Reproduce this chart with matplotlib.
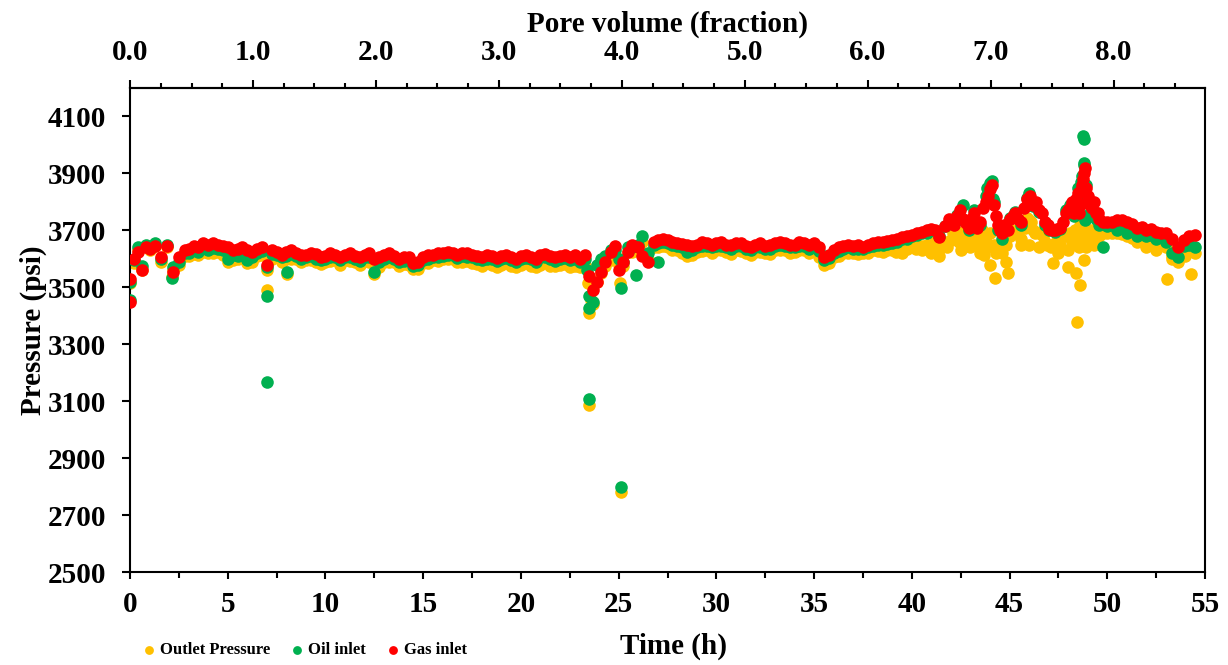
import matplotlib
matplotlib.use("Agg")
import matplotlib.pyplot as plt
from matplotlib.ticker import AutoMinorLocator, FormatStrFormatter
import numpy as np

plt.rcParams['font.family'] = 'serif'
plt.rcParams['font.serif'] = ['Liberation Serif', 'DejaVu Serif']
plt.rcParams['font.weight'] = 'bold'

# time of the logged points (h), shared by the three series
time_h = [
    0.0, 0.2, 0.4, 0.6, 0.8, 1.0, 1.3, 1.6, 1.9, 2.2,
    2.5, 2.8, 3.0, 3.5, 4.0, 4.5, 5.0, 5.5, 6.0, 6.5,
    7.0, 7.5, 8.0, 8.5, 9.0, 9.5, 10.0, 10.5, 11.0, 11.5,
    12.0, 12.5, 13.0, 13.5, 14.0, 14.5, 15.0, 15.5, 16.0, 16.5,
    17.0, 17.5, 18.0, 18.5, 19.0, 19.5, 20.0, 20.5, 21.0, 21.5,
    22.0, 22.5, 23.0, 23.3, 23.5, 23.7, 23.9, 24.1, 24.3, 24.6,
    24.8, 25.0, 25.2, 25.5, 25.7, 26.0, 26.2, 26.5, 26.8, 27.0,
    27.5, 28.0, 28.5, 29.0, 29.5, 30.0, 30.5, 31.0, 31.5, 32.0,
    32.5, 33.0, 33.5, 34.0, 34.5, 35.0, 35.5, 36.0, 36.5, 37.0,
    37.5, 38.0, 38.5, 39.0, 39.5, 40.0, 40.5, 41.0, 41.4, 41.7,
    42.0, 42.3, 42.6, 42.9, 43.2, 43.5, 43.8, 44.0, 44.2, 44.4,
    44.6, 44.8, 45.0, 45.3, 45.6, 45.9, 46.2, 46.5, 46.8, 47.0,
    47.3, 47.6, 47.9, 48.1, 48.3, 48.5, 48.6, 48.7, 48.8, 48.9,
    49.0, 49.2, 49.4, 49.6, 50.0, 50.5, 51.0, 51.5, 52.0, 52.5,
    53.0, 53.3, 53.6, 53.9, 54.2, 54.5,
    # in-between readings
    3.25, 3.75, 4.25, 4.75, 5.25, 5.75, 6.25, 6.75, 7.25, 7.75,
    8.25, 8.75, 9.25, 9.75, 10.25, 10.75, 11.25, 11.75, 12.25, 12.75,
    13.25, 13.75, 14.25, 14.75, 15.25, 15.75, 16.25, 16.75, 17.25, 17.75,
    18.25, 18.75, 19.25, 19.75, 20.25, 20.75, 21.25, 21.75, 22.25, 22.75,
    27.25, 27.75, 28.25, 28.75, 29.25, 29.75, 30.25, 30.75, 31.25, 31.75,
    32.25, 32.75, 33.25, 33.75, 34.25, 34.75, 35.25, 35.75, 36.25, 36.75,
    37.25, 37.75, 38.25, 38.75, 39.25, 39.75, 40.25, 40.75, 50.25, 50.75,
    51.25, 51.75, 52.25, 52.75,
]

outlet_psi = [
    3515, 3585, 3630, 3560, 3640, 3630, 3645, 3590, 3640, 3560,
    3580, 3610, 3610, 3615, 3620, 3625, 3590, 3600, 3585, 3610,
    3560, 3605, 3600, 3600, 3595, 3590, 3588, 3595, 3595, 3590,
    3595, 3548, 3590, 3590, 3582, 3565, 3585, 3595, 3600, 3600,
    3588, 3585, 3575, 3578, 3578, 3575, 3578, 3575, 3580, 3575,
    3578, 3572, 3570, 3580, 3410, 3440, 3520, 3550, 3575, 3595,
    3615, 3580, 3575, 3625, 3625, 3640, 3660, 3600, 3640, 3640,
    3640, 3630, 3610, 3625, 3630, 3630, 3625, 3630, 3620, 3625,
    3620, 3630, 3630, 3625, 3630, 3630, 3580, 3605, 3620, 3620,
    3620, 3630, 3625, 3630, 3620, 3640, 3645, 3650, 3610, 3660,
    3665, 3690, 3665, 3645, 3680, 3660, 3680, 3690, 3650, 3640,
    3620, 3650, 3680, 3690, 3670, 3720, 3700, 3690, 3660, 3650,
    3640, 3650, 3680, 3690, 3670, 3700, 3660, 3700, 3720, 3680,
    3690, 3700, 3690, 3680, 3690, 3690, 3680, 3670, 3660, 3650,
    3640, 3610, 3590, 3620, 3630, 3620,
    3618, 3625, 3622, 3612, 3595, 3608, 3588, 3612, 3600, 3588,
    3600, 3588, 3596, 3582, 3592, 3580, 3592, 3578, 3590, 3570,
    3590, 3575, 3580, 3565, 3585, 3592, 3598, 3590, 3594, 3582,
    3584, 3572, 3586, 3570, 3585, 3572, 3588, 3575, 3582, 3575,
    3645, 3632, 3620, 3612, 3628, 3622, 3630, 3618, 3628, 3615,
    3624, 3618, 3632, 3622, 3630, 3620, 3605, 3585, 3610, 3622,
    3618, 3622, 3628, 3630, 3630, 3635, 3640, 3640, 3690, 3686,
    3672, 3662, 3655, 3648,
]

oil_psi = [
    3520, 3595, 3640, 3575, 3650, 3640, 3655, 3600, 3650, 3570,
    3590, 3620, 3620, 3625, 3630, 3635, 3600, 3610, 3595, 3620,
    3570, 3615, 3610, 3610, 3605, 3600, 3598, 3605, 3605, 3600,
    3605, 3555, 3600, 3600, 3592, 3575, 3595, 3605, 3610, 3612,
    3610, 3605, 3595, 3600, 3600, 3595, 3600, 3598, 3605, 3600,
    3600, 3595, 3590, 3600, 3470, 3450, 3580, 3600, 3610, 3630,
    3630, 3600, 3590, 3640, 3640, 3650, 3680, 3620, 3650, 3655,
    3655, 3645, 3625, 3640, 3645, 3645, 3640, 3645, 3635, 3640,
    3635, 3645, 3645, 3640, 3645, 3645, 3595, 3620, 3635, 3635,
    3635, 3645, 3650, 3655, 3670, 3680, 3690, 3700, 3680, 3715,
    3730, 3755, 3735, 3700, 3770, 3720, 3820, 3865, 3800, 3700,
    3670, 3700, 3745, 3765, 3720, 3815, 3785, 3765, 3720, 3700,
    3695, 3705, 3770, 3790, 3750, 3850, 3800, 3890, 3930, 3860,
    3810, 3770, 3740, 3720, 3715, 3700, 3690, 3680, 3680, 3670,
    3660, 3620, 3605, 3645, 3650, 3640,
    3630, 3640, 3638, 3630, 3612, 3625, 3605, 3628, 3618, 3605,
    3618, 3600, 3610, 3596, 3608, 3595, 3608, 3592, 3608, 3590,
    3606, 3590, 3596, 3578, 3598, 3606, 3612, 3602, 3608, 3598,
    3600, 3592, 3602, 3588, 3602, 3590, 3605, 3592, 3602, 3600,
    3660, 3648, 3640, 3632, 3645, 3640, 3646, 3636, 3644, 3632,
    3642, 3636, 3648, 3640, 3646, 3636, 3628, 3602, 3628, 3640,
    3636, 3640, 3648, 3652, 3660, 3670, 3682, 3692, 3718, 3726,
    3700, 3690, 3685, 3676,
]

gas_psi = [
    3530, 3600, 3625, 3560, 3640, 3635, 3645, 3605, 3645, 3555,
    3605, 3630, 3635, 3640, 3650, 3648, 3640, 3635, 3630, 3635,
    3580, 3625, 3625, 3620, 3615, 3618, 3610, 3615, 3615, 3610,
    3615, 3598, 3615, 3610, 3605, 3585, 3605, 3615, 3620, 3620,
    3620, 3615, 3605, 3610, 3610, 3605, 3610, 3605, 3615, 3610,
    3610, 3605, 3600, 3615, 3540, 3490, 3520, 3555, 3590, 3625,
    3645, 3560, 3590, 3625, 3650, 3640, 3610, 3590, 3660, 3665,
    3665, 3655, 3650, 3650, 3655, 3655, 3650, 3655, 3645, 3650,
    3645, 3655, 3655, 3650, 3655, 3655, 3605, 3630, 3645, 3645,
    3640, 3655, 3660, 3665, 3675, 3685, 3695, 3705, 3675, 3715,
    3730, 3750, 3740, 3710, 3760, 3730, 3800, 3845, 3790, 3720,
    3690, 3710, 3740, 3760, 3730, 3810, 3790, 3770, 3730, 3705,
    3700, 3710, 3760, 3780, 3760, 3830, 3790, 3860, 3900, 3850,
    3820, 3780, 3760, 3740, 3730, 3735, 3730, 3710, 3700, 3695,
    3690, 3670, 3640, 3665, 3680, 3685,
    3645, 3655, 3655, 3645, 3632, 3640, 3625, 3640, 3630, 3615,
    3630, 3612, 3622, 3608, 3620, 3606, 3620, 3605, 3620, 3605,
    3620, 3600, 3608, 3590, 3612, 3620, 3625, 3615, 3622, 3610,
    3612, 3603, 3615, 3600, 3615, 3600, 3618, 3605, 3615, 3612,
    3670, 3660, 3652, 3645, 3658, 3650, 3658, 3648, 3655, 3642,
    3655, 3648, 3660, 3650, 3658, 3648, 3640, 3615, 3640, 3650,
    3648, 3650, 3658, 3662, 3670, 3680, 3690, 3700, 3728, 3738,
    3722, 3712, 3705, 3690,
]

# scattered readings off the main band
outlet_extra_t = [2.15, 7.0, 8.05, 23.45, 23.5, 23.6, 25.05, 25.1,
                  39.2, 39.8, 40.2, 40.5, 40.8, 41.0, 41.2, 41.5, 41.8, 42.1, 42.4, 42.5,
                  42.7, 43.0, 43.0, 43.1, 43.3, 43.5, 43.6, 43.7, 43.9, 44.0,
                  44.1, 44.26, 44.3, 44.5, 44.7, 44.8, 44.9, 45.1, 45.4, 45.6,
                  45.8, 45.9, 46.0, 46.0, 46.1, 46.3, 46.5, 46.7, 46.9, 47.1,
                  47.2, 47.4, 47.5, 47.7, 48.0, 48.0, 48.2, 48.35, 48.4, 48.45,
                  48.55, 48.6, 48.6, 48.75, 48.8, 48.9, 49.1, 49.3, 49.5, 49.8,
                  50.2, 51.5, 52.0, 52.5, 53.05, 53.3, 54.0, 54.3]
outlet_extra_p = [3535, 3489, 3548, 3515, 3086, 3455, 3514, 2781,
                  3625, 3640, 3635, 3630, 3650, 3620, 3660, 3640, 3640, 3690, 3660, 3630,
                  3700, 3640, 3700, 3650, 3690, 3620, 3700, 3612, 3650, 3577,
                  3640, 3532, 3620, 3650, 3660, 3588, 3549, 3700, 3690, 3647,
                  3710, 3745, 3650, 3735, 3730, 3690, 3640, 3680, 3650, 3640,
                  3584, 3660, 3620, 3690, 3570, 3630, 3660, 3700, 3549, 3377,
                  3640, 3507, 3720, 3680, 3595, 3640, 3660, 3650, 3700, 3690,
                  3700, 3660, 3640, 3630, 3528, 3600, 3610, 3546]

oil_extra_t = [0.0, 2.15, 7.0, 7.0, 8.05, 23.4, 23.5, 23.5, 25.1, 25.1, 25.9,
               27.0, 42.6, 43.85, 44.1, 44.15, 46.0, 48.65, 48.75, 48.8, 48.8,
               48.85, 48.9, 49.1, 49.8]
oil_extra_p = [3455, 3532, 3468, 3167, 3553, 3560, 3426, 3107, 3496, 2798, 3542,
               3588, 3790, 3850, 3875, 3810, 3830, 3870, 4030, 4020, 3935,
               3735, 3800, 3760, 3640]

gas_extra_t = [0.0, 41.2, 41.9, 42.15, 42.45, 42.75, 43.05, 43.35, 43.65, 43.9,
               44.1, 44.3, 44.5, 44.7, 44.9, 45.15, 45.45, 45.75, 46.05, 46.35,
               46.65, 46.95, 47.15, 47.45, 47.75, 48.0, 48.2, 48.4, 48.55, 48.65,
               48.75, 48.85, 48.95, 49.1, 49.3, 49.5, 49.8]
gas_extra_p = [3450, 3700, 3740, 3720, 3770, 3725, 3740, 3710, 3780, 3820,
               3860, 3750, 3700, 3720, 3700, 3750, 3740, 3780, 3820, 3800,
               3760, 3720, 3700, 3705, 3730, 3770, 3800, 3810, 3760, 3840,
               3880, 3920, 3800, 3790, 3800, 3760, 3730]

hours_per_pv = 6.29

fig = plt.figure(figsize=(12.28, 6.65), dpi=100)
ax = fig.add_axes([0.1059, 0.1398, 0.8754, 0.7279])

ms = 82
ax.scatter(time_h + outlet_extra_t, outlet_psi + outlet_extra_p, s=ms,
           color='#FFC000', linewidths=0, label='Outlet Pressure', zorder=2)
ax.scatter(time_h + oil_extra_t, oil_psi + oil_extra_p, s=ms,
           color='#00B050', linewidths=0, label='Oil inlet', zorder=3)
ax.scatter(time_h + gas_extra_t, gas_psi + gas_extra_p, s=ms,
           color='#FF0000', linewidths=0, label='Gas inlet', zorder=4)

ax.set_xlim(0, 55)
ax.set_ylim(2500, 4200)
ax.set_xticks(np.arange(0, 56, 5))
ax.xaxis.set_minor_locator(AutoMinorLocator(2))
ax.set_yticks(np.arange(2500, 4101, 200))

for sp in ax.spines.values():
    sp.set_linewidth(1.5)
ax.tick_params(axis='both', which='major', labelsize=21, width=1.5, direction='out')
ax.tick_params(axis='x', which='major', length=5, pad=9)
ax.tick_params(axis='x', which='minor', length=4, width=1.5, direction='out')
ax.tick_params(axis='y', which='major', length=6, pad=11)

ax.set_xlabel('Time (h)', fontsize=21, fontweight='bold')
ax.xaxis.set_label_coords(0.506, -0.125)
ax.set_ylabel('Pressure (psi)', fontsize=21, fontweight='bold', labelpad=1)

sec = ax.secondary_xaxis('top', functions=(lambda t: t / hours_per_pv,
                                           lambda pv: pv * hours_per_pv))
sec.set_xticks(np.arange(0, 9, 1.0))
sec.xaxis.set_major_formatter(FormatStrFormatter('%.1f'))
sec.xaxis.set_minor_locator(AutoMinorLocator(4))
sec.tick_params(axis='x', which='major', labelsize=21, length=6, width=1.5, pad=10)
sec.tick_params(axis='x', which='minor', length=3.5, width=1.5)
sec.spines['top'].set_linewidth(1.5)
sec.set_xlabel('Pore volume (fraction)', fontsize=21, fontweight='bold', labelpad=5)

leg = ax.legend(loc='center left', bbox_to_anchor=(0.012, -0.162), ncol=3, frameon=False,
                handlelength=0.7, handletextpad=0.3, columnspacing=1.3, markerscale=0.7,
                borderaxespad=0, borderpad=0,
                prop={'family': 'serif', 'weight': 'bold', 'size': 12})

fig.savefig('out.png', dpi=100)
